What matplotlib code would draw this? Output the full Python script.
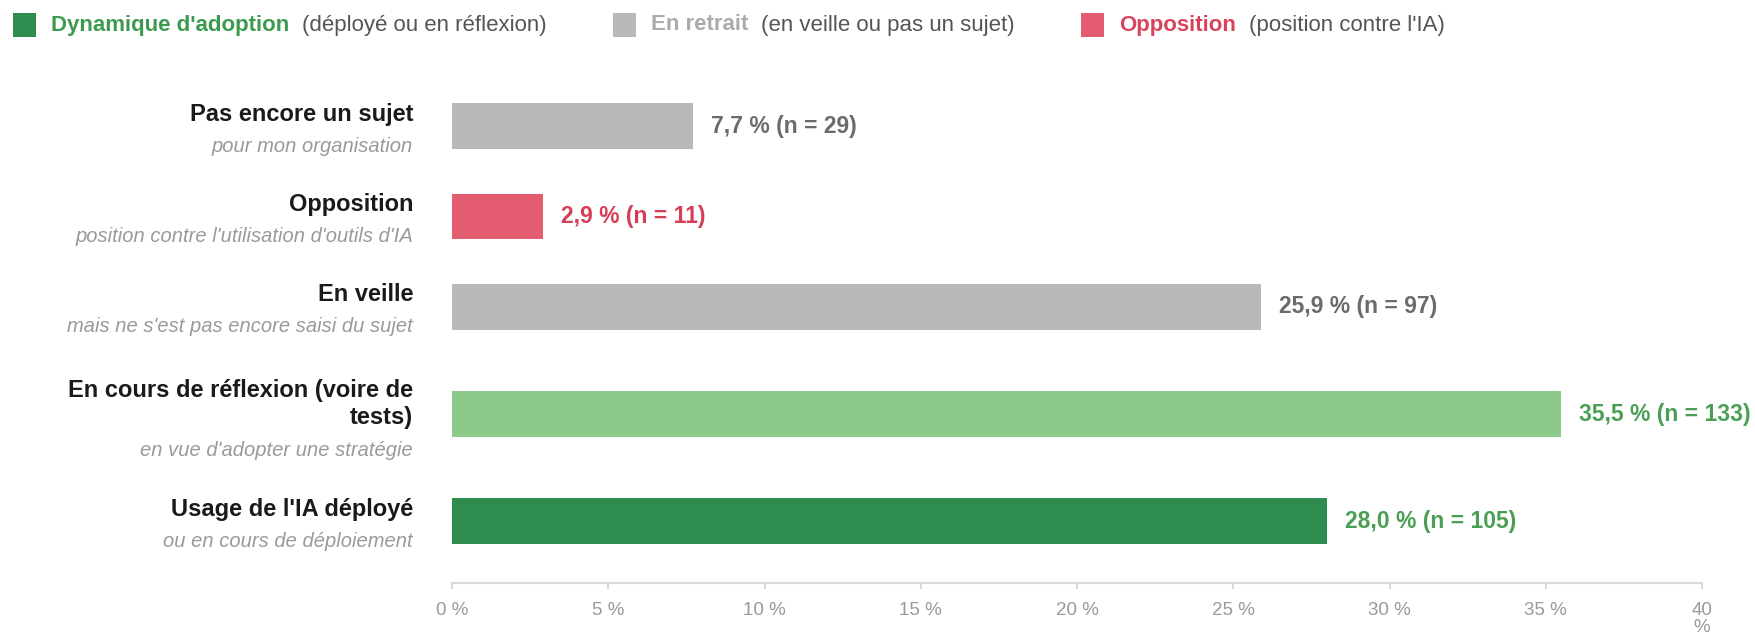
import matplotlib
matplotlib.use("Agg")
import matplotlib.pyplot as plt
from matplotlib.patches import Rectangle

plt.rcParams["font.family"] = ["Liberation Sans", "DejaVu Sans"]

# données
categories = [
    "Pas encore un sujet",
    "Opposition",
    "En veille",
    "En cours de réflexion (voire de\ntests)",
    "Usage de l'IA déployé",
]
subtitles = [
    "pour mon organisation",
    "position contre l'utilisation d'outils d'IA",
    "mais ne s'est pas encore saisi du sujet",
    "en vue d'adopter une stratégie",
    "ou en cours de déploiement",
]
percents = [7.7, 2.9, 25.9, 35.5, 28.0]
counts = [29, 11, 97, 133, 105]
groups = ["retrait", "opposition", "retrait", "reflexion", "deploye"]

tick_values = [0, 5, 10, 15, 20, 25, 30, 35, 40]
tick_labels = ["0 %", "5 %", "10 %", "15 %", "20 %", "25 %", "30 %", "35 %", "40\n%"]

legend_items = [
    ("Dynamique d'adoption", "(déployé ou en réflexion)", "deploye"),
    ("En retrait", "(en veille ou pas un sujet)", "retrait"),
    ("Opposition", "(position contre l'IA)", "opposition"),
]

# styles
bar_colors = {"retrait": "#b9b9b9", "opposition": "#e35c6f",
              "reflexion": "#8dc98a", "deploye": "#2e8d4e"}
label_colors = {"retrait": "#6b6b6b", "opposition": "#d43f57",
                "reflexion": "#4a9f55", "deploye": "#4a9f55"}
legend_colors = {"retrait": "#ababab", "opposition": "#d8435b", "deploye": "#3c9a50"}

W, H = 1755, 633
fig = plt.figure(figsize=(W / 100, H / 100), dpi=100)
ax = fig.add_axes([452 / W, (H - 583) / H, 1250 / W, 513 / H])

# rows are taller when the title wraps
n_lines = [c.count("\n") + 1 for c in categories]
row_h = [1 + 0.37 * (n - 1) for n in n_lines]
ypos = [0.0]
for i in range(1, len(categories)):
    ypos.append(ypos[-1] + (row_h[i - 1] + row_h[i]) / 2)

ax.barh(ypos, percents, height=0.508, color=[bar_colors[g] for g in groups])
ax.set_xlim(0, 40)
ax.set_ylim(5.05, -0.619)

for y, p, n, g in zip(ypos, percents, counts, groups):
    txt = f"{p:.1f}".replace(".", ",") + f" % (n = {n})"
    ax.annotate(txt, xy=(p, y), xytext=(18, 0), textcoords="offset pixels",
                va="center", ha="left", fontsize=16.5, fontweight="bold",
                color=label_colors[g])

for y, cat, sub, nl in zip(ypos, categories, subtitles, n_lines):
    ax.annotate(cat, xy=(0, y), xycoords=("axes fraction", "data"),
                xytext=(-39, 12 - 2 * (nl - 1)), textcoords="offset pixels",
                ha="right", va="center", fontsize=17, fontweight="bold",
                color="#1a1a1a", multialignment="right")
    ax.annotate(sub, xy=(0, y), xycoords=("axes fraction", "data"),
                xytext=(-39, -20 - 16 * (nl - 1)), textcoords="offset pixels",
                ha="right", va="center", fontsize=14.5, fontstyle="italic",
                color="#9a9a9a")

for s in ["top", "right", "left"]:
    ax.spines[s].set_visible(False)
ax.spines["bottom"].set_color("#d9d9d9")
ax.spines["bottom"].set_linewidth(1.5)
ax.set_yticks([])
ax.set_xticks(tick_values)
ax.set_xticklabels(tick_labels, fontsize=13.5, color="#9a9a9a", linespacing=1.05)
ax.tick_params(axis="x", length=4.5, width=1.5, color="#d9d9d9", pad=9)

# légende en haut
renderer = fig.canvas.get_renderer()
x = 13
yc = 25
for title, note, g in legend_items:
    fig.add_artist(Rectangle((x / W, (H - yc - 11.5) / H), 23 / W, 23 / H,
                             transform=fig.transFigure, color=bar_colors[g], lw=0))
    x += 23 + 15
    t = fig.text(x / W, (H - yc) / H, title, fontsize=16, fontweight="bold",
                 color=legend_colors[g], va="center", ha="left")
    x += t.get_window_extent(renderer).width + 13
    t = fig.text(x / W, (H - yc) / H, note, fontsize=16, color="#555555",
                 va="center", ha="left")
    x += t.get_window_extent(renderer).width + 66

fig.savefig("out.png", dpi=100)
